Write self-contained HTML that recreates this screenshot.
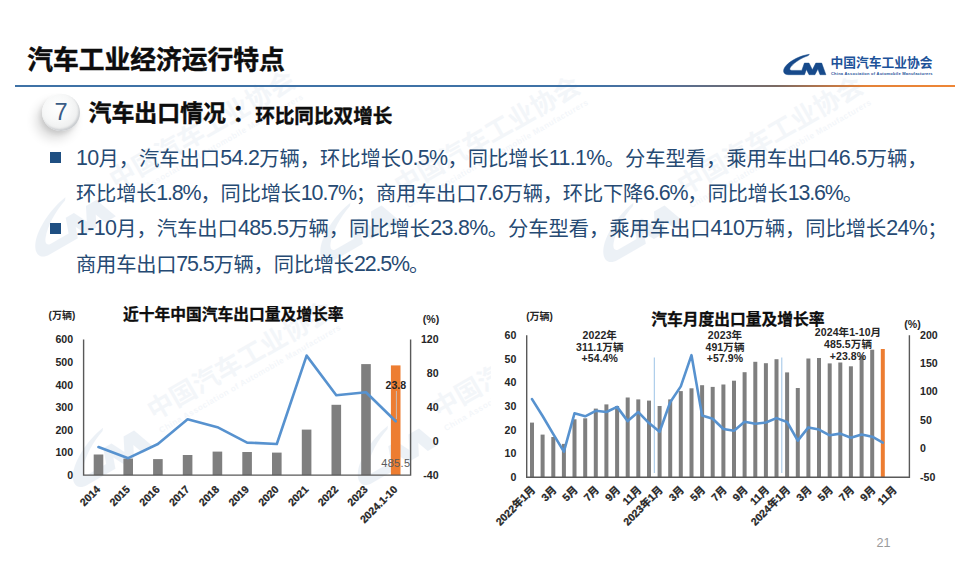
<!DOCTYPE html>
<html lang="zh-CN">
<head>
<meta charset="utf-8">
<title>汽车工业经济运行特点</title>
<style>
html,body{margin:0;padding:0;background:#fff;}
body{width:970px;height:567px;position:relative;overflow:hidden;font-family:"Liberation Sans","Noto Sans CJK SC",sans-serif;}
.abs{position:absolute;white-space:nowrap;}
#title{left:27.3px;top:42.4px;font-size:25.75px;line-height:36px;font-weight:700;color:#0d0d0d;-webkit-text-stroke:0.45px #0d0d0d;}
#rule{left:15px;top:84.65px;width:940px;height:2.8px;background:linear-gradient(90deg,#3f72a6 0%,#3f72a6 61%,#526f9a 69%,#666c7c 75%,#7b6a63 81%,#b5754b 86%,#e48238 90.5%,#ee8636 100%);}
#ball{left:42.2px;top:93.8px;width:37.6px;height:37.6px;border-radius:50%;
 background:radial-gradient(circle at 40% 36%,#ffffff 0%,#f7f8f8 40%,#eceded 72%,#d9dbdd 100%);
 box-shadow:-6px 8px 11px rgba(0,0,0,.14),-2px 3px 4px rgba(0,0,0,.09),inset -1.5px -2px 2px rgba(120,125,135,.28);}
#seven{left:42.2px;top:96.6px;width:37.6px;text-align:center;font-size:23.6px;line-height:30px;color:#3a5c86;}
#sub1{left:88.6px;top:95.8px;font-size:22.9px;line-height:34px;font-weight:700;color:#0d0d0d;-webkit-text-stroke:0.45px #0d0d0d;}
#sub1 i{font-style:normal;position:relative;left:6.5px;}
#sub2{left:255.2px;top:101.2px;font-size:19.6px;line-height:30px;font-weight:700;color:#0d0d0d;-webkit-text-stroke:0.4px #0d0d0d;}
.bul{left:50.3px;width:11px;height:11px;background:#1f4f82;}
.p{left:76px;font-size:20.27px;line-height:30px;color:#264a73;}
.nat{letter-spacing:-0.2px;}
.p b{font-weight:400;font-size:21.4px;letter-spacing:-0.63px;position:relative;top:-1px;}
.nat b{letter-spacing:-1.13px;}
#pg{left:876.5px;top:536px;font-size:12.6px;line-height:15px;color:#9a9a9a;}
svg{position:absolute;left:0;top:0;}
svg text{font-family:"Liberation Sans","Noto Sans CJK SC",sans-serif;}
.tk{font-size:10.6px;font-weight:700;fill:#262626;}
.un{font-size:10px;font-weight:700;fill:#262626;}
.pc{font-size:10.6px;font-weight:700;fill:#262626;}
.xl{stroke:#262626;stroke-width:0.25px;}
.ct{font-size:15.75px;font-weight:700;fill:#0d0d0d;stroke:#0d0d0d;stroke-width:0.3px;}
.an{font-size:10.5px;font-weight:700;fill:#262626;letter-spacing:0.1px;}
#logotx{left:830.5px;top:53.5px;font-size:12.75px;line-height:18px;font-weight:700;color:#1d5299;}
#logoen{left:831px;top:71px;font-size:4px;letter-spacing:0.234px;line-height:6px;font-weight:700;color:#1d5299;}
</style>
</head>
<body>
<svg width="970" height="567" viewBox="0 0 970 567" style="z-index:0">
<g transform="translate(123 175.5) rotate(-30) scale(2.05) translate(-837.4 -63)" opacity="0.1" fill="#4f7bb3"><path d="M809.3 54.3 C800.5 55.6 790.3 60.4 785.6 66.2 C782.3 70.3 783 74.7 788.6 74.7 L804.5 74.7 L806.4 69.4 L809.05 74.7 L814.95 74.7 L817.9 69 L820 74.7 L825.9 74.7 L821.7 63.1 L815.8 63.1 L812.4 69.8 L809 63.1 L804.4 63.1 L801.8 70.4 L791.8 70.4 C789.4 70.4 789.3 68.7 791 66.6 C794.6 62.2 801.6 57.8 808.3 55.6 Z" transform="translate(-1.5 3.8)"/><text x="831" y="67.6" font-size="12.75" font-weight="700" opacity="0.62">中国汽车工业协会</text><text x="831" y="74.6" font-size="4" font-weight="700" letter-spacing="0.234" opacity="0.62">China Association of Automobile Manufacturers</text></g>
<g transform="translate(408 181) rotate(-30) scale(2.05) translate(-837.4 -63)" opacity="0.1" fill="#4f7bb3"><path d="M809.3 54.3 C800.5 55.6 790.3 60.4 785.6 66.2 C782.3 70.3 783 74.7 788.6 74.7 L804.5 74.7 L806.4 69.4 L809.05 74.7 L814.95 74.7 L817.9 69 L820 74.7 L825.9 74.7 L821.7 63.1 L815.8 63.1 L812.4 69.8 L809 63.1 L804.4 63.1 L801.8 70.4 L791.8 70.4 C789.4 70.4 789.3 68.7 791 66.6 C794.6 62.2 801.6 57.8 808.3 55.6 Z" transform="translate(-1.5 3.8)"/><text x="831" y="67.6" font-size="12.75" font-weight="700" opacity="0.62">中国汽车工业协会</text><text x="831" y="74.6" font-size="4" font-weight="700" letter-spacing="0.234" opacity="0.62">China Association of Automobile Manufacturers</text></g>
<g transform="translate(691 181) rotate(-30) scale(2.05) translate(-837.4 -63)" opacity="0.1" fill="#4f7bb3"><path d="M809.3 54.3 C800.5 55.6 790.3 60.4 785.6 66.2 C782.3 70.3 783 74.7 788.6 74.7 L804.5 74.7 L806.4 69.4 L809.05 74.7 L814.95 74.7 L817.9 69 L820 74.7 L825.9 74.7 L821.7 63.1 L815.8 63.1 L812.4 69.8 L809 63.1 L804.4 63.1 L801.8 70.4 L791.8 70.4 C789.4 70.4 789.3 68.7 791 66.6 C794.6 62.2 801.6 57.8 808.3 55.6 Z" transform="translate(-1.5 3.8)"/><text x="831" y="67.6" font-size="12.75" font-weight="700" opacity="0.62">中国汽车工业协会</text><text x="831" y="74.6" font-size="4" font-weight="700" letter-spacing="0.234" opacity="0.62">China Association of Automobile Manufacturers</text></g>
<g transform="translate(160.6 406) rotate(-30) scale(2.05) translate(-837.4 -63)" opacity="0.1" fill="#4f7bb3"><path d="M809.3 54.3 C800.5 55.6 790.3 60.4 785.6 66.2 C782.3 70.3 783 74.7 788.6 74.7 L804.5 74.7 L806.4 69.4 L809.05 74.7 L814.95 74.7 L817.9 69 L820 74.7 L825.9 74.7 L821.7 63.1 L815.8 63.1 L812.4 69.8 L809 63.1 L804.4 63.1 L801.8 70.4 L791.8 70.4 C789.4 70.4 789.3 68.7 791 66.6 C794.6 62.2 801.6 57.8 808.3 55.6 Z" transform="translate(-1.5 3.8)"/><text x="831" y="67.6" font-size="12.75" font-weight="700" opacity="0.62">中国汽车工业协会</text><text x="831" y="74.6" font-size="4" font-weight="700" letter-spacing="0.234" opacity="0.62">China Association of Automobile Manufacturers</text></g>
<g transform="translate(445.5 404) rotate(-30) scale(2.05) translate(-837.4 -63)" opacity="0.1" fill="#4f7bb3"><path d="M809.3 54.3 C800.5 55.6 790.3 60.4 785.6 66.2 C782.3 70.3 783 74.7 788.6 74.7 L804.5 74.7 L806.4 69.4 L809.05 74.7 L814.95 74.7 L817.9 69 L820 74.7 L825.9 74.7 L821.7 63.1 L815.8 63.1 L812.4 69.8 L809 63.1 L804.4 63.1 L801.8 70.4 L791.8 70.4 C789.4 70.4 789.3 68.7 791 66.6 C794.6 62.2 801.6 57.8 808.3 55.6 Z" transform="translate(-1.5 3.8)"/><text x="831" y="67.6" font-size="12.75" font-weight="700" opacity="0.62">中国汽车工业协会</text><text x="831" y="74.6" font-size="4" font-weight="700" letter-spacing="0.234" opacity="0.62">China Association of Automobile Manufacturers</text></g>
<rect x="491" y="298" width="474" height="245" fill="#fff"/>
</svg>
<div id="title" class="abs">汽车工业经济运行特点</div>
<div id="rule" class="abs"></div>
<div id="ball" class="abs"></div>
<div id="seven" class="abs">7</div>
<div id="sub1" class="abs">汽车出口情况<i>：</i></div>
<div id="sub2" class="abs">环比同比双增长</div>
<div class="abs bul" style="top:152px"></div>
<div class="abs p" style="top:143.5px"><b>10</b>月，汽车出口<b>54.2</b>万辆，环比增长<b>0.5%</b>，同比增长<b>11.1%</b>。分车型看，乘用车出口<b>46.5</b>万辆，</div>
<div class="abs p nat" style="top:178.9px">环比增长<b>1.8%</b>，同比增长<b>10.7%</b>；商用车出口<b>7.6</b>万辆，环比下降<b>6.6%</b>，同比增长<b>13.6%</b>。</div>
<div class="abs bul" style="top:222.9px"></div>
<div class="abs p" style="top:214.3px"><b>1-10</b>月，汽车出口<b>485.5</b>万辆，同比增长<b>23.8%</b>。分车型看，乘用车出口<b>410</b>万辆，同比增长<b>24%</b>；</div>
<div class="abs p nat" style="top:249.7px">商用车出口<b>75.5</b>万辆，同比增长<b>22.5%</b>。</div>
<svg width="970" height="567" viewBox="0 0 970 567" style="z-index:2">
<g id="logo" fill="#174a8b" stroke="#174a8b" stroke-width="0.5" stroke-linejoin="round">
<path d="M809.3 54.3 C800.5 55.6 790.3 60.4 785.6 66.2 C782.3 70.3 783 74.7 788.6 74.7 L804.5 74.7 L806.4 69.4 L809.05 74.7 L814.95 74.7 L817.9 69 L820 74.7 L825.9 74.7 L821.7 63.1 L815.8 63.1 L812.4 69.8 L809 63.1 L804.4 63.1 L801.8 70.4 L791.8 70.4 C789.4 70.4 789.3 68.7 791 66.6 C794.6 62.2 801.6 57.8 808.3 55.6 Z"/>
</g>
<rect x="93.7" y="454.5" width="9.6" height="20.6" fill="#7f7f7f"/>
<rect x="123.4" y="458.6" width="9.6" height="16.5" fill="#7f7f7f"/>
<rect x="153.1" y="459.1" width="9.6" height="16" fill="#7f7f7f"/>
<rect x="182.8" y="455" width="9.6" height="20.1" fill="#7f7f7f"/>
<rect x="212.6" y="451.6" width="9.6" height="23.5" fill="#7f7f7f"/>
<rect x="242.3" y="452" width="9.6" height="23.1" fill="#7f7f7f"/>
<rect x="272" y="452.6" width="9.6" height="22.5" fill="#7f7f7f"/>
<rect x="301.8" y="429.6" width="9.6" height="45.5" fill="#7f7f7f"/>
<rect x="331.5" y="404.8" width="9.6" height="70.3" fill="#7f7f7f"/>
<rect x="361.2" y="364.1" width="9.6" height="111" fill="#7f7f7f"/>
<rect x="390.9" y="365.4" width="9.6" height="109.7" fill="#ed7d31"/>
<polyline points="98.5,447 128.2,458.2 157.9,444 187.6,419.3 217.4,427.2 247.1,442.6 276.8,444 306.6,355.6 336.3,395.3 366,392.3 395.7,421.3" fill="none" stroke="#5792cf" stroke-width="2.6" stroke-linejoin="round" stroke-linecap="round"/>
<path d="M83.6 339.5V475.1H410.6V339.5" fill="none" stroke="#595959" stroke-width="1.4"/>
<text x="73.1" y="478.9" text-anchor="end" class="tk">0</text>
<text x="73.1" y="456.3" text-anchor="end" class="tk">100</text>
<text x="73.1" y="433.7" text-anchor="end" class="tk">200</text>
<text x="73.1" y="411.1" text-anchor="end" class="tk">300</text>
<text x="73.1" y="388.5" text-anchor="end" class="tk">400</text>
<text x="73.1" y="365.9" text-anchor="end" class="tk">500</text>
<text x="73.1" y="343.3" text-anchor="end" class="tk">600</text>
<text x="438.6" y="478.9" text-anchor="end" class="tk">-40</text>
<text x="438.6" y="444.9" text-anchor="end" class="tk">0</text>
<text x="438.6" y="410.9" text-anchor="end" class="tk">40</text>
<text x="438.6" y="376.9" text-anchor="end" class="tk">80</text>
<text x="438.6" y="342.9" text-anchor="end" class="tk">120</text>
<text transform="translate(101 490.1) rotate(-45)" text-anchor="end" class="tk xl">2014</text>
<text transform="translate(130.7 490.1) rotate(-45)" text-anchor="end" class="tk xl">2015</text>
<text transform="translate(160.4 490.1) rotate(-45)" text-anchor="end" class="tk xl">2016</text>
<text transform="translate(190.1 490.1) rotate(-45)" text-anchor="end" class="tk xl">2017</text>
<text transform="translate(219.9 490.1) rotate(-45)" text-anchor="end" class="tk xl">2018</text>
<text transform="translate(249.6 490.1) rotate(-45)" text-anchor="end" class="tk xl">2019</text>
<text transform="translate(279.3 490.1) rotate(-45)" text-anchor="end" class="tk xl">2020</text>
<text transform="translate(309.1 490.1) rotate(-45)" text-anchor="end" class="tk xl">2021</text>
<text transform="translate(338.8 490.1) rotate(-45)" text-anchor="end" class="tk xl">2022</text>
<text transform="translate(368.5 490.1) rotate(-45)" text-anchor="end" class="tk xl">2023</text>
<text transform="translate(398.2 490.1) rotate(-45)" text-anchor="end" class="tk xl">2024.1-10</text>
<text x="48.6" y="319.4" class="un">(万辆)</text>
<text x="422.8" y="322.7" class="pc">(%)</text>
<text x="123" y="320.3" class="ct">近十年中国汽车出口量及增长率</text>
<text x="395.8" y="389" text-anchor="middle" class="tk">23.8</text>
<text x="395.8" y="467" text-anchor="middle" style="font-size:11px;fill:#5a5a5a;letter-spacing:0.3px">485.5</text>
<path d="M396.4 391V419" stroke="#c4c4c4" stroke-width="0.9"/>
<rect x="530" y="422.6" width="4" height="54.6" fill="#7f7f7f"/>
<rect x="540.6" y="434.6" width="4" height="42.6" fill="#7f7f7f"/>
<rect x="551.3" y="437" width="4" height="40.2" fill="#7f7f7f"/>
<rect x="561.9" y="443.9" width="4" height="33.3" fill="#7f7f7f"/>
<rect x="572.5" y="419.3" width="4" height="57.9" fill="#7f7f7f"/>
<rect x="583.2" y="418.3" width="4" height="58.9" fill="#7f7f7f"/>
<rect x="593.8" y="408.6" width="4" height="68.6" fill="#7f7f7f"/>
<rect x="604.4" y="404.4" width="4" height="72.8" fill="#7f7f7f"/>
<rect x="615.1" y="406" width="4" height="71.2" fill="#7f7f7f"/>
<rect x="625.7" y="397.5" width="4" height="79.7" fill="#7f7f7f"/>
<rect x="636.3" y="399.4" width="4" height="77.8" fill="#7f7f7f"/>
<rect x="647" y="400.6" width="4" height="76.6" fill="#7f7f7f"/>
<rect x="657.6" y="406" width="4" height="71.2" fill="#7f7f7f"/>
<rect x="668.2" y="399.4" width="4" height="77.8" fill="#7f7f7f"/>
<rect x="678.8" y="391.1" width="4" height="86.1" fill="#7f7f7f"/>
<rect x="689.5" y="388.3" width="4" height="88.9" fill="#7f7f7f"/>
<rect x="700.1" y="385.2" width="4" height="92" fill="#7f7f7f"/>
<rect x="710.7" y="386.9" width="4" height="90.3" fill="#7f7f7f"/>
<rect x="721.4" y="384.5" width="4" height="92.7" fill="#7f7f7f"/>
<rect x="732" y="380.7" width="4" height="96.5" fill="#7f7f7f"/>
<rect x="742.6" y="372.2" width="4" height="105" fill="#7f7f7f"/>
<rect x="753.3" y="361.8" width="4" height="115.4" fill="#7f7f7f"/>
<rect x="763.9" y="363.2" width="4" height="114" fill="#7f7f7f"/>
<rect x="774.5" y="359.2" width="4" height="118" fill="#7f7f7f"/>
<rect x="785.1" y="372.4" width="4" height="104.8" fill="#7f7f7f"/>
<rect x="795.8" y="388" width="4" height="89.2" fill="#7f7f7f"/>
<rect x="806.4" y="358.5" width="4" height="118.7" fill="#7f7f7f"/>
<rect x="817" y="358" width="4" height="119.2" fill="#7f7f7f"/>
<rect x="827.7" y="363.4" width="4" height="113.8" fill="#7f7f7f"/>
<rect x="838.3" y="362.5" width="4" height="114.7" fill="#7f7f7f"/>
<rect x="848.9" y="366.3" width="4" height="110.9" fill="#7f7f7f"/>
<rect x="859.6" y="356.3" width="4" height="120.9" fill="#7f7f7f"/>
<rect x="870.2" y="349.7" width="4" height="127.5" fill="#7f7f7f"/>
<rect x="880.8" y="349" width="4" height="128.2" fill="#ed7d31"/>
<path d="M654.3 357.5V473" stroke="#9dc3e6" stroke-width="1" fill="none"/>
<path d="M781.8 357.5V473" stroke="#9dc3e6" stroke-width="1" fill="none"/>
<polyline points="532,399.1 542.6,416 553.3,434.1 563.9,451.7 574.5,413.3 585.2,416.3 595.8,410.8 606.4,412 617.1,406.9 627.7,421.1 638.3,412.1 649,423.1 659.6,431.8 670.2,402.2 680.8,386.4 691.5,355.2 702.1,415.6 712.7,418.7 723.4,429 734,430.7 744.6,421.8 755.3,423.8 765.9,422.5 776.5,418.1 787.1,422 797.8,440.6 808.4,427.4 819,429.6 829.7,435.3 840.3,433.6 850.9,437.8 861.6,434.5 872.2,436.7 882.8,442.6" fill="none" stroke="#5792cf" stroke-width="2.6" stroke-linejoin="round" stroke-linecap="round"/>
<path d="M526.7 335.3V477.2H909.4V335.3" fill="none" stroke="#595959" stroke-width="1.4"/>
<text x="516.4" y="481" text-anchor="end" class="tk">0</text>
<text x="516.4" y="457.4" text-anchor="end" class="tk">10</text>
<text x="516.4" y="433.7" text-anchor="end" class="tk">20</text>
<text x="516.4" y="410.1" text-anchor="end" class="tk">30</text>
<text x="516.4" y="386.4" text-anchor="end" class="tk">40</text>
<text x="516.4" y="362.8" text-anchor="end" class="tk">50</text>
<text x="516.4" y="339.1" text-anchor="end" class="tk">60</text>
<text x="920" y="480.6" class="tk">-50</text>
<text x="920" y="452.2" class="tk">0</text>
<text x="920" y="423.8" class="tk">50</text>
<text x="920" y="395.4" class="tk">100</text>
<text x="920" y="367" class="tk">150</text>
<text x="920" y="338.6" class="tk">200</text>
<text transform="translate(536 490.4) rotate(-45)" text-anchor="end" class="tk xl">2022年1月</text>
<text transform="translate(557.3 490.4) rotate(-45)" text-anchor="end" class="tk xl">3月</text>
<text transform="translate(578.5 490.4) rotate(-45)" text-anchor="end" class="tk xl">5月</text>
<text transform="translate(599.8 490.4) rotate(-45)" text-anchor="end" class="tk xl">7月</text>
<text transform="translate(621.1 490.4) rotate(-45)" text-anchor="end" class="tk xl">9月</text>
<text transform="translate(642.3 490.4) rotate(-45)" text-anchor="end" class="tk xl">11月</text>
<text transform="translate(663.6 490.4) rotate(-45)" text-anchor="end" class="tk xl">2023年1月</text>
<text transform="translate(684.8 490.4) rotate(-45)" text-anchor="end" class="tk xl">3月</text>
<text transform="translate(706.1 490.4) rotate(-45)" text-anchor="end" class="tk xl">5月</text>
<text transform="translate(727.4 490.4) rotate(-45)" text-anchor="end" class="tk xl">7月</text>
<text transform="translate(748.6 490.4) rotate(-45)" text-anchor="end" class="tk xl">9月</text>
<text transform="translate(769.9 490.4) rotate(-45)" text-anchor="end" class="tk xl">11月</text>
<text transform="translate(791.1 490.4) rotate(-45)" text-anchor="end" class="tk xl">2024年1月</text>
<text transform="translate(812.4 490.4) rotate(-45)" text-anchor="end" class="tk xl">3月</text>
<text transform="translate(833.7 490.4) rotate(-45)" text-anchor="end" class="tk xl">5月</text>
<text transform="translate(854.9 490.4) rotate(-45)" text-anchor="end" class="tk xl">7月</text>
<text transform="translate(876.2 490.4) rotate(-45)" text-anchor="end" class="tk xl">9月</text>
<text transform="translate(897.5 490.4) rotate(-45)" text-anchor="end" class="tk xl">11月</text>
<text x="526.2" y="320" class="un">(万辆)</text>
<text x="904.2" y="328" class="pc">(%)</text>
<text x="651.2" y="324.6" class="ct">汽车月度出口量及增长率</text>
<text x="599.8" y="338.8" text-anchor="middle" class="an">2022年</text>
<text x="599.8" y="350.6" text-anchor="middle" class="an">311.1万辆</text>
<text x="599.8" y="362.4" text-anchor="middle" class="an">+54.4%</text>
<text x="725" y="338.8" text-anchor="middle" class="an">2023年</text>
<text x="725" y="350.6" text-anchor="middle" class="an">491万辆</text>
<text x="725" y="362.4" text-anchor="middle" class="an">+57.9%</text>
<text x="848" y="336.2" text-anchor="middle" class="an">2024年1-10月</text>
<text x="848" y="348" text-anchor="middle" class="an">485.5万辆</text>
<text x="848" y="359.8" text-anchor="middle" class="an">+23.8%</text>
</svg>
<div id="logotx" class="abs">中国汽车工业协会</div>
<div id="logoen" class="abs">China Association of Automobile Manufacturers</div>
<div id="pg" class="abs">21</div>
</body>
</html>
